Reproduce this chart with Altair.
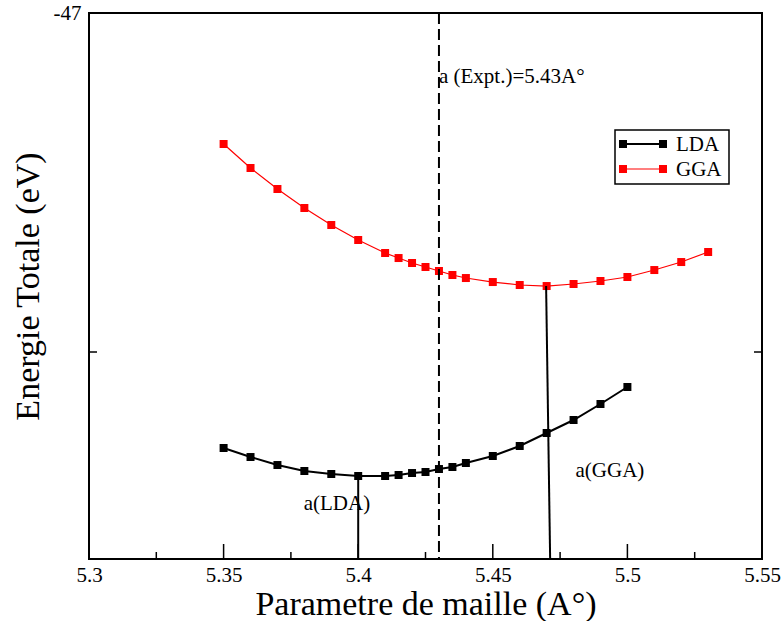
import altair as alt
import pandas as pd

# ---- data ----
lattice = [5.35, 5.36, 5.37, 5.38, 5.39, 5.40, 5.41, 5.415, 5.42, 5.425, 5.43,
           5.435, 5.44, 5.45, 5.46, 5.47, 5.48, 5.49, 5.50, 5.51, 5.52, 5.53]
gga_energy = [-47.1932, -47.2286, -47.2596, -47.2876, -47.3127, -47.3348, -47.3540,
              -47.3614, -47.3687, -47.3746, -47.3805, -47.3864, -47.3909, -47.3968,
              -47.4012, -47.4027, -47.3997, -47.3953, -47.3894, -47.3791, -47.3673,
              -47.3525]
lda_energy = [-47.6416, -47.6549, -47.6667, -47.6755, -47.6799, -47.6829, -47.6829,
              -47.6814, -47.6785, -47.6770, -47.6726, -47.6696, -47.6637, -47.6534,
              -47.6386, -47.6195, -47.6003, -47.5767, -47.5516]
series_names = ["LDA", "GGA"]
series_colors = ["black", "red"]

# equilibrium markers (vertical lines from minimum down to axis)
min_labels = ["a(LDA)", "a(GGA)"]
min_x_top = [5.400, 5.4698]
min_x_bottom = [5.400, 5.4713]
min_energy = [-47.6829, -47.4027]
min_label_x = [5.3921, 5.4935]
min_label_y = [-47.733, -47.684]

expt_a = 5.43
expt_text = "a (Expt.)=5.43A°"
expt_text_y = -47.103

x_domain = [5.3, 5.55]
y_domain = [-47.8053, -47.0]
x_major = [5.30, 5.35, 5.40, 5.45, 5.50, 5.55]
x_minor = [5.325, 5.375, 5.425, 5.475, 5.525]
y_major = [-47.0, -47.5]
y_labels = [-47.0]

W, H = 673, 546
FONT = "Liberation Serif"

# ---- tables ----
df = pd.DataFrame({
    "a": lattice[:len(lda_energy)] + lattice[:len(gga_energy)],
    "E": lda_energy + gga_energy,
    "series": ["LDA"] * len(lda_energy) + ["GGA"] * len(gga_energy),
})
df_min = pd.DataFrame({"a": min_x_top, "a2": min_x_bottom, "E": min_energy,
                       "E2": [y_domain[0]] * 2})
df_minlab = pd.DataFrame({"a": min_label_x, "E": min_label_y, "t": min_labels})
df_expt = pd.DataFrame({"a": [expt_a], "E": [expt_text_y], "t": [expt_text]})
df_dash = pd.DataFrame({"a": [expt_a]})
df_xmaj = pd.DataFrame({"a": x_major})
df_xmin = pd.DataFrame({"a": x_minor})
df_ymaj = pd.DataFrame({"E": y_major})

xs = alt.Scale(domain=x_domain, nice=False, zero=False)
ys = alt.Scale(domain=y_domain, nice=False, zero=False)
cs = alt.Scale(domain=series_names, range=series_colors)
sws = alt.Scale(domain=series_names, range=[2.0, 1.2])

x_axis = alt.Axis(values=x_major, format=".3~f", ticks=False, tickSize=0, domain=False,
                  grid=False, labelFont=FONT, labelFontSize=21, labelColor="black",
                  labelPadding=5, labelFlush=False,
                  title="Parametre de maille (A°)", titleFont=FONT, titleFontSize=34,
                  titleFontWeight="normal", titleColor="black", titlePadding=2)
y_axis = alt.Axis(values=y_labels, labelExpr="'' + datum.value", ticks=False, tickSize=0,
                  domain=False, grid=False, labelFont=FONT, labelFontSize=21,
                  labelColor="black", labelPadding=8, labelFlush=False,
                  title="Energie Totale (eV)", titleFont=FONT, titleFontSize=34,
                  titleFontWeight="normal", titleColor="black", titlePadding=8)


def X(field="a:Q"):
    return alt.X(field, scale=xs, axis=x_axis)


def Y(field="E:Q"):
    return alt.Y(field, scale=ys, axis=y_axis)


lines = alt.Chart(df).mark_line().encode(
    x=X(), y=Y(),
    color=alt.Color("series:N", scale=cs, legend=None),
    strokeWidth=alt.StrokeWidth("series:N", scale=sws, legend=None),
    detail="series:N",
)
points = alt.Chart(df).mark_square(size=64, opacity=1, filled=True).encode(
    x=X(), y=Y(),
    color=alt.Color("series:N", scale=cs, legend=None),
)
min_rules = alt.Chart(df_min).mark_rule(color="black", strokeWidth=2).encode(
    x=X(), x2="a2:Q", y=Y(), y2="E2:Q",
)
dash = alt.Chart(df_dash).mark_rule(color="black", strokeWidth=2, strokeDash=[11, 5]).encode(
    x=X(), y=alt.value(0), y2=alt.value(H),
)
min_text = alt.Chart(df_minlab).mark_text(font=FONT, fontSize=21, align="center",
                                          baseline="alphabetic", color="black").encode(
    x=X(), y=Y(), text="t:N",
)
expt_txt = alt.Chart(df_expt).mark_text(font=FONT, fontSize=21, align="left",
                                        baseline="alphabetic", color="black").encode(
    x=X(), y=Y(), text="t:N",
)
# ticks drawn inward
xmaj_t = alt.Chart(df_xmaj).mark_rule(color="black", strokeWidth=1.5).encode(
    x=X(), y=alt.value(H - 15), y2=alt.value(H))
xmin_t = alt.Chart(df_xmin).mark_rule(color="black", strokeWidth=1.5).encode(
    x=X(), y=alt.value(H - 7), y2=alt.value(H))
yl_t = alt.Chart(df_ymaj).mark_rule(color="black", strokeWidth=1.5).encode(
    y=Y(), x=alt.value(0), x2=alt.value(8))
yr_t = alt.Chart(df_ymaj).mark_rule(color="black", strokeWidth=1.5).encode(
    y=Y(), x=alt.value(W - 8), x2=alt.value(W))

# legend box
LX0, LX1, LY0, LY1 = 526, 640, 117, 171
legend_layers = [
    alt.Chart(alt.Data(values=[{}])).mark_rect(fill="white", stroke="black", strokeWidth=1.5).encode(
        x=alt.value(LX0), x2=alt.value(LX1), y=alt.value(LY0), y2=alt.value(LY1))
]
for i, (name, col) in enumerate(zip(series_names, series_colors)):
    ry = 131 + 25 * i
    sw = 2.0 if i == 0 else 1.2
    row = pd.DataFrame({"label": [name]})
    legend_layers.append(alt.Chart(row).mark_rule(color=col, strokeWidth=sw).encode(
        x=alt.value(534), x2=alt.value(574), y=alt.value(ry)))
    legend_layers.append(alt.Chart(row).mark_square(size=64, color=col, opacity=1, filled=True).encode(
        x=alt.value(534), y=alt.value(ry)))
    legend_layers.append(alt.Chart(row).mark_square(size=64, color=col, opacity=1, filled=True).encode(
        x=alt.value(574), y=alt.value(ry)))
    legend_layers.append(alt.Chart(row).mark_text(font=FONT, fontSize=21, align="left",
                                                  baseline="middle", color="black").encode(
        x=alt.value(587), y=alt.value(ry + 1), text="label:N"))

chart = alt.layer(
    lines, points, min_rules, dash, min_text, expt_txt, xmaj_t, xmin_t, yl_t, yr_t,
    *legend_layers
).properties(
    width=W, height=H,
    padding={"left": 89, "top": 13, "right": 21, "bottom": 62},
    autosize=alt.AutoSizeParams(type="none"),
    background="white",
).configure_view(stroke="black", strokeWidth=2)

chart.save("out.html", embed_options={"renderer": "svg", "actions": False})
